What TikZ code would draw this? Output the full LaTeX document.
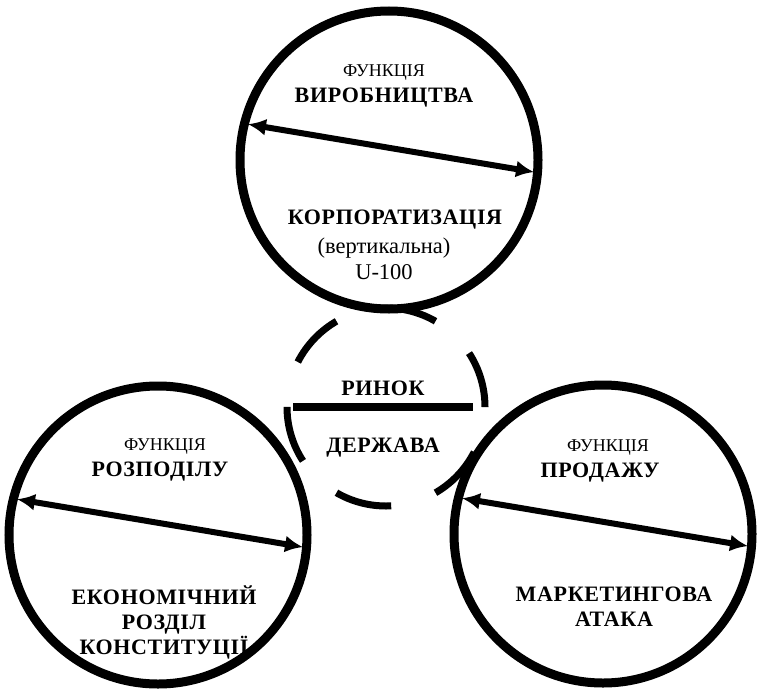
\documentclass[tikz,border=0pt]{standalone}
\usepackage{fontspec}
\setmainfont{Liberation Serif}
\newfontfamily\spacedbold[LetterSpace=3]{Liberation Serif Bold}
\usetikzlibrary{arrows.meta}

\tikzstyle{func circle}=[draw,circle,line width=9pt,minimum size=298pt,
    inner sep=0pt,color=black]
\tikzstyle{market circle}=[draw,circle,line width=7pt,minimum size=198pt,
    inner sep=0pt,dash pattern=on 57pt off 46.67pt]
\tikzstyle{func arrow}=[line width=6pt,{Latex[length=18pt,width=17pt]}-{Latex[length=18pt,width=17pt]},
    shorten <=8pt,shorten >=8pt]
\tikzstyle{small label}=[inner sep=0pt,font=\fontsize{18}{21}\selectfont]
\tikzstyle{mid label}=[inner sep=0pt,font=\fontsize{22.5}{25}\selectfont]
\tikzstyle{big label}=[inner sep=0pt,align=center,font=\fontsize{22}{25}\selectfont\spacedbold]
\newcommand{\funcarrow}[1]{\draw[func arrow] (#1.166) -- (#1.-5);}

\begin{document}
\begin{tikzpicture}[x=1pt,y=-1pt]
    \useasboundingbox (0,0) rectangle (757,688);
    %
    \node[func circle] (prod) at (389,160) {};
    \node[func circle] (distr) at (158,535) {};
    \node[func circle] (sales) at (603,534) {};
    \node[market circle] (market) at (386,407) {};
    %
    \draw[line width=8pt] (293,407) -- (473,407);
    \node[big label] (rynok) at (383,388) {РИНОК};
    \node[big label] (derzh) at (383,448) {ДЕРЖАВА};
    %
    \node[small label] (prodF) at (384,73) {ФУНКЦІЯ};
    \node[big label] (prodN) at (384,98) {ВИРОБНИЦТВА};
    \funcarrow{prod}
    \node[big label] (prodA) at (395,220) {КОРПОРАТИЗАЦІЯ};
    \node[mid label] (prodB) at (384,248) {(вертикальна)};
    \node[mid label] (prodC) at (384,272) {U-100};
    %
    \node[small label] (distrF) at (165,447) {ФУНКЦІЯ};
    \node[big label] (distrN) at (160,472) {РОЗПОДІЛУ};
    \funcarrow{distr}
    \node[big label] (distrA) at (164,622) {ЕКОНОМІЧНИЙ\\РОЗДІЛ\\КОНСТИТУЦІЇ};
    %
    \node[small label] (salesF) at (608,448) {ФУНКЦІЯ};
    \node[big label] (salesN) at (600,473) {ПРОДАЖУ};
    \funcarrow{sales}
    \node[big label] (salesA) at (614,607) {МАРКЕТИНГОВА\\АТАКА};
\end{tikzpicture}
\end{document}
